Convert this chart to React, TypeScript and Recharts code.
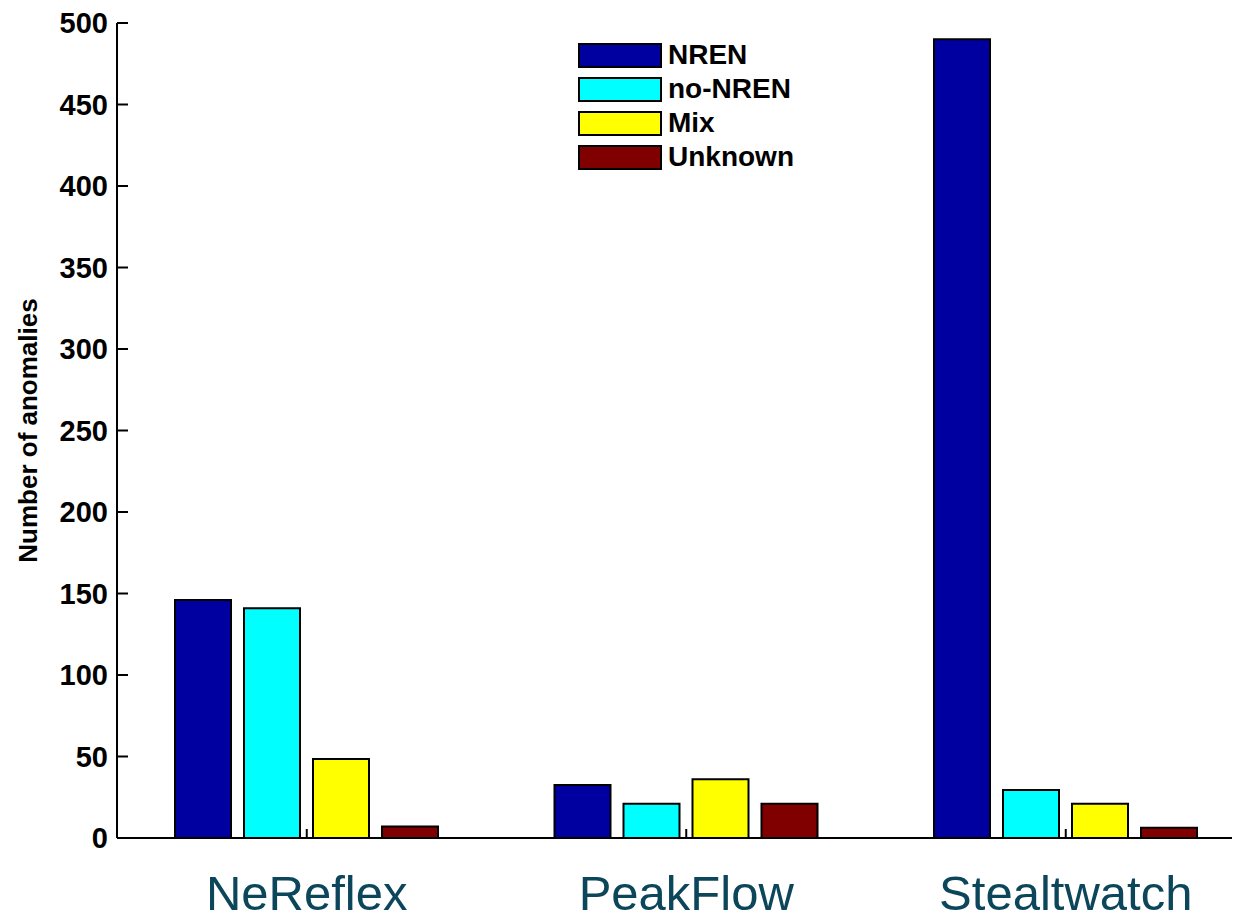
import React from "react";
import { BarChart, Bar, XAxis, YAxis, Legend } from "recharts";

const TOOLS = ["NeReflex", "PeakFlow", "Stealtwatch"];
const NREN = [146, 32.5, 490];
const NO_NREN = [141, 21, 29.5];
const MIX = [48.5, 36, 21];
const UNKNOWN = [7, 21, 6.3];
const Y_TICKS = [0, 50, 100, 150, 200, 250, 300, 350, 400, 450, 500];

const SERIES = [
  { key: "nren", label: "NREN", color: "#0000A0", values: NREN },
  { key: "noNren", label: "no-NREN", color: "#00FFFF", values: NO_NREN },
  { key: "mix", label: "Mix", color: "#FFFF00", values: MIX },
  { key: "unknown", label: "Unknown", color: "#800000", values: UNKNOWN },
];

const data = TOOLS.map((tool, i) => {
  const row: Record<string, string | number> = { tool };
  SERIES.forEach((s) => {
    row[s.key] = s.values[i];
  });
  return row;
});

const FONT = '"Liberation Sans", Arial, sans-serif';

// keep legend rows in series order (recharts sorts by name otherwise)
const LegendBox = ({ payload }: any) => {
  const order = SERIES.map((s) => s.label);
  const items = [...(payload || [])].sort(
    (a: any, b: any) => order.indexOf(a.value) - order.indexOf(b.value)
  );
  return (
    <div style={{ fontFamily: FONT }}>
      {items.map((p: any) => (
        <div
          key={p.value}
          style={{ display: "flex", alignItems: "center", height: 34 }}
        >
          <div
            style={{
              width: 84,
              height: 25,
              boxSizing: "border-box",
              border: "2px solid #000",
              background: p.color,
              marginRight: 6,
            }}
          />
          <span style={{ fontSize: 28, fontWeight: 700, color: "#000" }}>
            {p.value}
          </span>
        </div>
      ))}
    </div>
  );
};

const App: React.FC = () => {
  return (
    <div style={{ margin: -8, width: 1240, height: 921, overflow: "hidden" }}>
      <BarChart
        width={1260}
        height={921}
        data={data}
        margin={{ top: 23, right: 4.5, left: 0, bottom: 0 }}
        barSize={56}
        barGap={13}
      >
        <XAxis
          dataKey="tool"
          interval={0}
          height={83}
          stroke="#000"
          axisLine={{ stroke: "#000", strokeWidth: 2 }}
          tickLine={{ stroke: "#000", strokeWidth: 2 }}
          tickSize={-9}
          tickMargin={46}
          tick={{ fontSize: 49, fill: "#0C465A", fontFamily: FONT }}
        />
        <YAxis
          type="number"
          domain={[0, 500]}
          ticks={Y_TICKS}
          width={117}
          stroke="#000"
          axisLine={{ stroke: "#000", strokeWidth: 2 }}
          tickLine={{ stroke: "#000", strokeWidth: 2 }}
          tickSize={-11}
          tickMargin={20}
          tick={{ fontSize: 29, fontWeight: 700, fill: "#000", fontFamily: FONT }}
          label={{
            value: "Number of anomalies",
            angle: -90,
            position: "insideLeft",
            offset: 0,
            dx: 28,
            style: {
              fontSize: 26,
              fontWeight: 700,
              fill: "#000",
              fontFamily: FONT,
              textAnchor: "middle",
            },
          }}
        />
        <Legend
          layout="vertical"
          align="center"
          verticalAlign="middle"
          content={<LegendBox />}
          wrapperStyle={{ top: 38, left: 578, width: 260 }}
        />
        {SERIES.map((s) => (
          <Bar
            key={s.key}
            dataKey={s.key}
            name={s.label}
            fill={s.color}
            stroke="#000"
            strokeWidth={2}
            isAnimationActive={false}
          />
        ))}
      </BarChart>
    </div>
  );
};

export default App;
